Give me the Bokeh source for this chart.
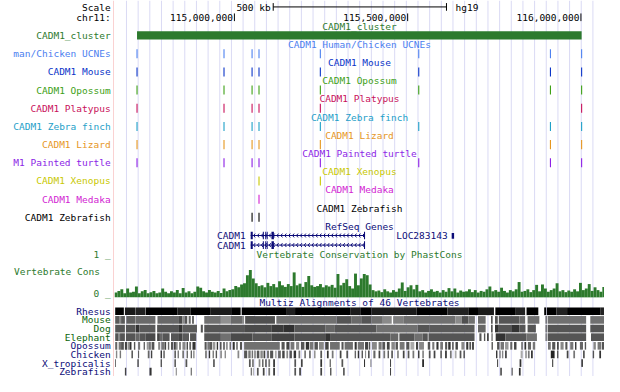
import numpy as np
from bokeh.plotting import figure
from bokeh.layouts import row
from bokeh.models import Range1d
from bokeh.core.properties import value
from bokeh.embed import file_html
from bokeh.resources import INLINE

# ---------------- data (chr11, hg19; positions in Mb) ----------------
view_start = 114.654
view_end = 116.068
chrom_label = "chr11:"
ruler_ticks = [115.0, 115.5, 116.0]
ruler_labels = ["115,000,000", "115,500,000", "116,000,000"]
scale_bar_start = 115.112
scale_bar_len = 0.5
scale_label = "500 kb"
assembly = "hg19"

cluster_name = "CADM1_cluster"
cluster_start, cluster_end = 114.719, 116.002

ucne_pos = [114.719, 114.970, 115.051, 115.071, 115.248, 115.532, 115.912, 116.002]
mouse_pos = [114.719, 114.970, 115.051, 115.071, 115.248, 115.532, 115.912, 116.002]
opossum_pos = [114.719, 114.970, 115.051, 115.071, 115.248, 115.532, 115.912, 116.002]
platypus_pos = [114.719, 114.970, 115.051, 115.071, 115.248, 116.002]
zebrafinch_pos = [114.719, 114.970, 115.051, 115.071, 115.248, 115.532, 115.912, 116.002]
lizard_pos = [114.719, 114.970, 115.051, 115.071, 115.248, 115.912, 116.002]
turtle_pos = [114.719, 114.970, 115.051, 115.071, 115.248, 115.532, 115.912, 116.002]
xenopus_pos = [115.071, 115.248]
medaka_pos = [115.071]
zebrafish_pos = [115.051, 115.071]

track_titles = ["CADM1 Human/Chicken UCNEs", "CADM1 Mouse", "CADM1 Opossum", "CADM1 Platypus",
                "CADM1 Zebra finch", "CADM1 Lizard", "CADM1 Painted turtle", "CADM1 Xenopus",
                "CADM1 Medaka", "CADM1 Zebrafish"]
track_labels = ["man/Chicken UCNEs", "CADM1 Mouse", "CADM1 Opossum", "CADM1 Platypus",
                "CADM1 Zebra finch", "CADM1 Lizard", "M1 Painted turtle", "CADM1 Xenopus",
                "CADM1 Medaka", "CADM1 Zebrafish"]
track_colors = ["#4c80f0", "#0a34c8", "#3ca014", "#c8105a", "#1ea0c8", "#e6961e",
                "#8c1ee6", "#c8c800", "#d21ed2", "#000000"]

gene_name = "CADM1"
gene_tx_start, gene_tx_end = 115.047, 115.377
gene_exon_starts = [115.047, 115.082, 115.089, 115.094, 115.107, 115.374]
gene_exon_ends = [115.053, 115.085, 115.092, 115.096, 115.114, 115.377]
loc_name = "LOC283143"
loc_start, loc_end = 115.627, 115.634

cons_start = 114.654
cons_step = 0.00843
cons_values = [
    0.12, 0.16, 0.20, 0.10, 0.22, 0.12, 0.14, 0.27, 0.10, 0.15,
    0.18, 0.10, 0.13, 0.16, 0.10, 0.12, 0.22, 0.14, 0.10, 0.15,
    0.12, 0.18, 0.10, 0.23, 0.12, 0.15, 0.10, 0.14, 0.27, 0.24,
    0.15, 0.12, 0.18, 0.14, 0.12, 0.16, 0.11, 0.22, 0.15, 0.18,
    0.20, 0.28, 0.25, 0.32, 0.35, 0.55, 0.68, 0.47, 0.35, 0.28,
    0.30, 0.25, 0.36, 0.28, 0.33, 0.25, 0.40, 0.30, 0.26, 0.33,
    0.28, 0.62, 0.30, 0.34, 0.26, 0.38, 0.53, 0.30, 0.26, 0.28,
    0.33, 0.25, 0.30, 0.27, 0.31, 0.24, 0.58, 0.30, 0.36, 0.45,
    0.28, 0.22, 0.59, 0.30, 0.47, 0.58, 0.55, 0.32, 0.18, 0.15,
    0.17, 0.13, 0.20, 0.15, 0.12, 0.18, 0.14, 0.22, 0.37, 0.16,
    0.25, 0.30, 0.20, 0.31, 0.15, 0.18, 0.12, 0.16, 0.20, 0.14,
    0.16, 0.12, 0.18, 0.14, 0.23, 0.15, 0.22, 0.12, 0.17, 0.14,
    0.15, 0.20, 0.13, 0.18, 0.12, 0.16, 0.14, 0.20, 0.27, 0.15,
    0.18, 0.14, 0.24, 0.16, 0.12, 0.18, 0.15, 0.20, 0.38, 0.14,
    0.16, 0.20, 0.13, 0.18, 0.31, 0.15, 0.32, 0.22, 0.14, 0.18,
    0.22, 0.35, 0.15, 0.18, 0.13, 0.17, 0.14, 0.20, 0.15, 0.36,
    0.18, 0.22, 0.33, 0.16, 0.25, 0.18, 0.14, 0.26]

# multiz alignment blocks: (start Mb, end Mb, gray level)
rhesus_aln = [
    (114.656, 114.681, 0), (114.684, 114.715, 26), (114.716, 114.743, 34), (114.744, 114.836, 0),
    (114.836, 114.874, 28), (114.874, 114.930, 0), (114.930, 114.993, 28), (114.993, 115.018, 0),
    (115.021, 115.149, 0), (115.149, 115.175, 32), (115.175, 115.334, 0), (115.334, 115.365, 28),
    (115.365, 115.396, 0), (115.396, 115.526, 28), (115.526, 115.615, 0), (115.615, 115.675, 34),
    (115.675, 115.703, 0), (115.703, 115.749, 26), (115.753, 115.812, 0), (115.812, 115.839, 34),
    (115.843, 115.877, 0), (115.894, 115.900, 0), (115.902, 115.929, 0), (115.929, 115.960, 34),
    (115.960, 116.057, 0), (116.057, 116.068, 34)]
mouse_aln = [
    (114.656, 114.667, 90), (114.667, 114.673, 136), (114.673, 114.684, 90), (114.688, 114.715, 96),
    (114.716, 114.772, 106), (114.778, 114.840, 104), (114.840, 114.850, 74), (114.850, 114.857, 138),
    (114.857, 114.864, 85), (114.868, 114.874, 102), (114.878, 114.883, 85), (114.913, 114.961, 112),
    (114.961, 114.990, 144), (114.990, 115.022, 106), (115.022, 115.028, 138), (115.031, 115.117, 80),
    (115.121, 115.295, 112), (115.295, 115.337, 85), (115.337, 115.368, 106), (115.368, 115.396, 85),
    (115.396, 115.426, 112), (115.426, 115.454, 138), (115.458, 115.489, 128), (115.489, 115.638, 112),
    (115.638, 115.656, 138), (115.656, 115.675, 80), (115.675, 115.694, 112), (115.703, 115.725, 106),
    (115.741, 115.745, 51), (115.752, 115.760, 85), (115.763, 115.823, 85), (115.823, 115.839, 106),
    (115.846, 115.880, 112), (115.898, 115.901, 51), (115.904, 116.015, 112), (116.027, 116.068, 112)]
dog_aln = [
    (114.656, 114.684, 85), (114.687, 114.715, 85), (114.716, 114.726, 51), (114.726, 114.772, 90),
    (114.777, 114.840, 85), (114.840, 114.850, 51), (114.850, 114.892, 90), (114.903, 114.909, 85),
    (114.913, 115.028, 85), (115.028, 115.108, 74), (115.108, 115.141, 58), (115.141, 115.173, 48),
    (115.173, 115.262, 85), (115.262, 115.290, 102), (115.290, 115.410, 85), (115.410, 115.529, 112),
    (115.529, 115.562, 85), (115.562, 115.693, 90), (115.703, 115.725, 102), (115.741, 115.745, 51),
    (115.752, 115.763, 51), (115.763, 115.801, 85), (115.801, 115.822, 51), (115.822, 115.840, 85),
    (115.846, 115.870, 85), (115.898, 115.901, 51), (115.904, 116.015, 85), (116.027, 116.068, 85)]
elephant_aln = [
    (114.656, 114.666, 85), (114.666, 114.670, 136), (114.670, 114.684, 85), (114.687, 114.715, 85),
    (114.716, 114.726, 102), (114.726, 114.743, 85), (114.743, 114.772, 74), (114.777, 114.785, 68),
    (114.785, 114.793, 102), (114.793, 114.813, 85), (114.817, 114.840, 85), (114.840, 114.850, 68),
    (114.850, 114.869, 90), (114.872, 114.890, 85), (114.913, 114.961, 85), (114.961, 114.990, 112),
    (114.990, 115.052, 74), (115.052, 115.108, 85), (115.108, 115.173, 68), (115.173, 115.262, 80),
    (115.262, 115.276, 51), (115.276, 115.450, 85), (115.450, 115.473, 102), (115.476, 115.520, 85),
    (115.520, 115.543, 112), (115.543, 115.558, 85), (115.560, 115.693, 85), (115.707, 115.713, 85),
    (115.720, 115.724, 85), (115.729, 115.734, 68), (115.742, 115.745, 68), (115.754, 115.782, 51),
    (115.782, 115.843, 85), (115.843, 115.873, 112), (115.898, 115.901, 68), (115.904, 116.015, 85),
    (116.029, 116.068, 85)]
opossum_aln = [
    (114.656, 114.662, 102), (114.666, 114.673, 119), (114.673, 114.681, 85), (114.684, 114.690, 68),
    (114.692, 114.695, 102), (114.697, 114.703, 51), (114.710, 114.714, 85), (114.722, 114.728, 119),
    (114.738, 114.742, 102), (114.747, 114.753, 153), (114.753, 114.759, 119), (114.761, 114.769, 85),
    (114.780, 114.786, 136), (114.789, 114.797, 119), (114.798, 114.803, 68), (114.808, 114.812, 102),
    (114.817, 114.823, 85), (114.825, 114.831, 68), (114.832, 114.836, 119), (114.841, 114.845, 85),
    (114.850, 114.859, 136), (114.862, 114.866, 68), (114.870, 114.875, 102), (114.879, 114.888, 51),
    (114.914, 114.920, 85), (114.922, 114.930, 119), (114.930, 114.935, 68), (114.937, 114.945, 153),
    (114.949, 114.953, 51), (114.958, 114.963, 85), (114.967, 114.973, 119), (114.977, 114.980, 68),
    (114.986, 114.990, 102), (114.995, 115.001, 51), (115.005, 115.010, 119), (115.016, 115.022, 85),
    (115.028, 115.131, 112), (115.136, 115.145, 85), (115.150, 115.159, 68), (115.162, 115.173, 119),
    (115.178, 115.187, 136), (115.192, 115.202, 85), (115.206, 115.216, 51), (115.218, 115.228, 119),
    (115.231, 115.241, 85), (115.244, 115.258, 136), (115.262, 115.272, 68), (115.276, 115.304, 112),
    (115.309, 115.315, 85), (115.318, 115.342, 112), (115.347, 115.353, 51), (115.356, 115.374, 119),
    (115.377, 115.386, 68), (115.388, 115.392, 85), (115.397, 115.411, 136), (115.416, 115.425, 119),
    (115.427, 115.435, 85), (115.440, 115.448, 68), (115.453, 115.463, 136), (115.465, 115.472, 85),
    (115.477, 115.491, 119), (115.496, 115.505, 85), (115.508, 115.519, 170), (115.524, 115.530, 68),
    (115.533, 115.547, 136), (115.558, 115.565, 85), (115.571, 115.577, 119), (115.583, 115.589, 51),
    (115.594, 115.602, 119), (115.608, 115.614, 85), (115.617, 115.624, 51), (115.628, 115.633, 102),
    (115.638, 115.645, 68), (115.655, 115.664, 136), (115.669, 115.675, 51), (115.678, 115.683, 85),
    (115.686, 115.691, 51), (115.742, 115.746, 85), (115.758, 115.765, 85), (115.768, 115.778, 119),
    (115.781, 115.791, 153), (115.796, 115.802, 102), (115.807, 115.814, 68), (115.828, 115.832, 85),
    (115.837, 115.842, 51), (115.847, 115.856, 102), (115.861, 115.868, 119), (115.905, 115.913, 119),
    (115.917, 115.926, 85), (115.931, 115.936, 68), (115.941, 115.950, 136), (115.955, 115.961, 85),
    (115.969, 115.978, 119), (115.983, 115.987, 51), (115.997, 116.006, 102), (116.011, 116.015, 85),
    (116.036, 116.043, 136), (116.048, 116.058, 119), (116.060, 116.068, 85)]
chicken_aln = [
    (114.658, 114.662, 136), (114.669, 114.673, 119), (114.703, 114.707, 68), (114.722, 114.725, 85),
    (114.750, 114.755, 102), (114.759, 114.763, 68), (114.787, 114.791, 51), (114.795, 114.799, 85),
    (114.827, 114.831, 68), (114.836, 114.840, 119), (114.850, 114.854, 85), (114.862, 114.866, 102),
    (114.874, 114.877, 51), (114.881, 114.885, 136), (114.916, 114.920, 85), (114.926, 114.930, 51),
    (114.937, 114.941, 119), (114.946, 114.950, 85), (114.960, 114.963, 68), (114.972, 114.975, 102),
    (115.009, 115.014, 136), (115.028, 115.037, 85), (115.040, 115.047, 119), (115.050, 115.053, 68),
    (115.056, 115.063, 153), (115.065, 115.072, 85), (115.075, 115.082, 136), (115.084, 115.089, 68),
    (115.094, 115.100, 119), (115.103, 115.112, 85), (115.117, 115.122, 170), (115.126, 115.134, 102),
    (115.138, 115.145, 68), (115.150, 115.155, 136), (115.159, 115.166, 85), (115.171, 115.178, 51),
    (115.185, 115.190, 119), (115.202, 115.206, 85), (115.216, 115.220, 68), (115.230, 115.234, 136),
    (115.248, 115.253, 85), (115.267, 115.272, 51), (115.281, 115.286, 119), (115.304, 115.309, 68),
    (115.323, 115.328, 85), (115.347, 115.351, 102), (115.356, 115.360, 51), (115.367, 115.371, 85),
    (115.377, 115.380, 136), (115.386, 115.390, 51), (115.401, 115.407, 102), (115.416, 115.421, 68),
    (115.430, 115.435, 119), (115.442, 115.446, 85), (115.453, 115.457, 51), (115.470, 115.474, 102),
    (115.486, 115.491, 68), (115.500, 115.505, 85), (115.514, 115.519, 119), (115.530, 115.534, 51),
    (115.542, 115.547, 136), (115.561, 115.566, 85), (115.575, 115.580, 68), (115.594, 115.599, 102),
    (115.608, 115.613, 51), (115.622, 115.627, 119), (115.636, 115.641, 170), (115.650, 115.655, 85),
    (115.661, 115.665, 68), (115.755, 115.759, 51), (115.765, 115.768, 85), (115.772, 115.776, 136),
    (115.781, 115.786, 68), (115.826, 115.832, 170), (115.840, 115.843, 85), (115.847, 115.852, 119),
    (115.856, 115.861, 51), (115.913, 115.924, 34), (115.931, 115.935, 85), (115.959, 115.964, 68),
    (115.978, 115.983, 119), (116.006, 116.011, 85), (116.034, 116.038, 85), (116.053, 116.058, 51)]
xtropicalis_aln = [
    (114.656, 114.658, 51), (114.720, 114.724, 68), (114.787, 114.791, 85), (114.827, 114.831, 68),
    (114.859, 114.864, 85), (114.939, 114.943, 51), (115.042, 115.047, 85), (115.051, 115.056, 119),
    (115.070, 115.075, 136), (115.080, 115.084, 85), (115.089, 115.093, 68), (115.098, 115.103, 119),
    (115.112, 115.117, 51), (115.173, 115.178, 85), (115.192, 115.197, 68), (115.248, 115.253, 51),
    (115.275, 115.278, 68), (115.309, 115.314, 85), (115.374, 115.377, 51), (115.393, 115.395, 68),
    (115.449, 115.452, 68), (115.542, 115.547, 34), (115.758, 115.761, 68), (115.823, 115.828, 51),
    (115.917, 115.920, 51), (116.001, 116.006, 68)]
zebrafish_aln = [
    (114.684, 114.688, 68), (114.755, 114.761, 51), (114.831, 114.833, 68), (114.874, 114.877, 85),
    (115.047, 115.051, 119), (115.054, 115.056, 153), (115.065, 115.070, 85), (115.082, 115.087, 68),
    (115.098, 115.103, 119), (115.112, 115.117, 51), (115.173, 115.178, 85), (115.187, 115.192, 68),
    (115.248, 115.253, 68), (115.276, 115.280, 85), (115.314, 115.318, 51), (115.449, 115.452, 68),
    (115.767, 115.772, 85), (115.800, 115.803, 68), (115.821, 115.826, 51)]
multiz_species = ["Rhesus", "Mouse", "Dog", "Elephant", "Opossum", "Chicken", "X_tropicalis", "Zebrafish"]

# ---------------- styles / layout ----------------
FONT = value("DejaVu Sans Mono")
FS = "9.5px"
NAVY = "#0c0c78"
GREEN = "#2d7a2d"
DKGREEN = "#0a640a"
GUIDE = "#dadaf4"
H = 376
W_LEFT, W_RIGHT = 114, 490
mpp = (view_end - view_start) / 503.0   # Mb per reference pixel
center = (view_start + view_end) / 2


def make_fig(w, xr):
    p = figure(width=w, height=H, x_range=xr, y_range=Range1d(392, 0),
               output_backend="svg", toolbar_location=None, min_border=0,
               x_axis_location=None, y_axis_location=None)
    p.outline_line_color = None
    p.grid.visible = False
    p.background_fill_color = "white"
    p.border_fill_color = "white"
    return p


def put_text(p, xs, ys, texts, colors, align, x_offset=0):
    p.text(x=xs, y=ys, text=texts, text_color=colors, text_align=align,
           text_baseline="middle", text_font=FONT, text_font_size=FS, x_offset=x_offset)


left = make_fig(W_LEFT, Range1d(0, 117))
right = make_fig(W_RIGHT, Range1d(view_start, view_end))

# guidelines
guides = view_start + (129.3 - 117 + 11.97 * np.arange(0, 42)) * mpp
guides = guides[guides < view_end]
right.segment(x0=guides, x1=guides, y0=0, y1=392, line_color=GUIDE, line_width=1)
left.segment(x0=[116.5], x1=[116.5], y0=[0], y1=[392], line_color="#f5a5a5", line_width=1)

# ---- scale + ruler ----
sb0, sb1 = scale_bar_start, scale_bar_start + scale_bar_len
right.segment(x0=[sb0, sb0, sb1], x1=[sb1, sb0, sb1], y0=[6.7, 2.7, 2.7], y1=[6.7, 10.7, 10.7],
              line_color="black", line_width=1)
put_text(right, [sb0], [7], [scale_label], ["black"], "right", x_offset=-2.5)
put_text(right, [sb1], [7], [assembly], ["black"], "left", x_offset=9)
right.segment(x0=ruler_ticks, x1=ruler_ticks, y0=13.5, y1=21.5, line_color="black", line_width=1)
put_text(right, ruler_ticks, [17.7] * 3, ruler_labels, ["black"] * 3, "right", x_offset=-1.5)

# ---- cluster ----
right.quad(left=[cluster_start], right=[cluster_end], top=[32], bottom=[40.7],
           fill_color=GREEN, line_color=None)
put_text(right, [center], [27], [cluster_name], [GREEN], "center")

# ---- element tracks ----
track_pos = [ucne_pos, mouse_pos, opossum_pos, platypus_pos, zebrafinch_pos, lizard_pos,
             turtle_pos, xenopus_pos, medaka_pos, zebrafish_pos]
row_y = [55.5 + 18.95 * k for k in range(len(track_pos))]
for pos, yc, col in zip(track_pos, row_y, track_colors):
    right.segment(x0=pos, x1=pos, y0=yc - 4.7, y1=yc + 4.7, line_color=col, line_width=1.1)
put_text(right, [center] * len(track_titles), [y - 9.7 for y in row_y], track_titles, track_colors, "center")

# ---- RefSeq genes ----
put_text(right, [center], [236], ["RefSeq Genes"], [NAVY], "center")
for yc in (245, 255):
    right.segment(x0=[gene_tx_start], x1=[gene_tx_end], y0=[yc], y1=[yc], line_color=NAVY, line_width=1)
    chev = np.arange(gene_tx_start + 3 * mpp, gene_tx_end - 2 * mpp, 4 * mpp)
    right.segment(x0=chev + 1.6 * mpp, x1=chev, y0=yc - 2, y1=yc, line_color=NAVY, line_width=1)
    right.segment(x0=chev, x1=chev + 1.6 * mpp, y0=yc, y1=yc + 2, line_color=NAVY, line_width=1)
    right.quad(left=gene_exon_starts, right=gene_exon_ends, top=yc - 4, bottom=yc + 4,
               fill_color=NAVY, line_color=None)
    put_text(right, [gene_tx_start], [yc], [gene_name], [NAVY], "right", x_offset=-5)
right.quad(left=[loc_start], right=[loc_end], top=[242.5], bottom=[248.5], fill_color=NAVY, line_color=None)
put_text(right, [loc_start], [245], [loc_name], [NAVY], "right", x_offset=-4)

# ---- conservation ----
put_text(right, [center], [265], ["Vertebrate Conservation by PhastCons"], [GREEN], "center")
cons_base, cons_scale = 309.5, 42.0
cv = np.array(cons_values)
cx = cons_start + cons_step * np.arange(len(cv))
right.quad(left=cx, right=cx + cons_step, bottom=cons_base, top=cons_base - cv * cons_scale,
           fill_color=GREEN, line_color=None)

# ---- multiz ----
put_text(right, [center], [315], ["Multiz Alignments of 46 Vertebrates"], [NAVY], "center")
aln_rows = [rhesus_aln, mouse_aln, dog_aln, elephant_aln, opossum_aln, chicken_aln,
            xtropicalis_aln, zebrafish_aln]
mz_y = [324 + 9 * k for k in range(len(aln_rows))]
for segs, yc in zip(aln_rows, mz_y):
    l = [s[0] for s in segs]
    r = [s[1] for s in segs]
    c = ["#%02x%02x%02x" % (s[2], s[2], s[2]) for s in segs]
    right.quad(left=l, right=r, top=yc - 4, bottom=yc + 4, fill_color=c, line_color=None)

# ---- left label column ----
lab_txt = ["Scale", chrom_label, cluster_name] + track_labels + ["1 _", "0 _"] + multiz_species
lab_y = [7, 17.7, 36.3] + row_y + [265, 305] + mz_y
lab_col = (["black", "black", GREEN] + track_colors + ["#2d7a2d", "#2d7a2d"]
           + [NAVY, DKGREEN, DKGREEN, DKGREEN, NAVY, NAVY, NAVY, NAVY])
put_text(left, [113] * len(lab_txt), lab_y, lab_txt, lab_col, "right")
put_text(left, [102], [283], ["Vertebrate Cons"], [GREEN], "right")

layout = row(left, right)
open("out.html", "w").write(file_html(layout, INLINE))
